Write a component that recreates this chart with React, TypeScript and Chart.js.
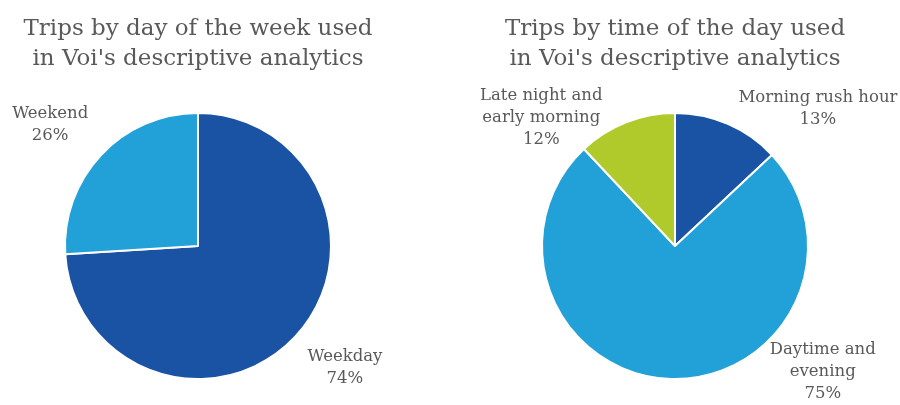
import React, { useEffect, useRef } from "react";
import { Chart, registerables } from "chart.js";

Chart.register(...registerables);

// ---------- data ----------
const dayTitle = ["Trips by day of the week used", "in Voi's descriptive analytics"];
const dayCategories = [["Weekday"], ["Weekend"]];
const dayValues = [74, 26];

const timeTitle = ["Trips by time of the day used", "in Voi's descriptive analytics"];
const timeCategories = [["Morning rush hour"], ["Daytime and", "evening"], ["Late night and", "early morning"]];
const timeValues = [13, 75, 12];

// ---------- styles / layout ----------
const DARK_BLUE = "#1a53a3";
const LIGHT_BLUE = "#22a0d8";
const GREEN = "#b0c92b";
const TEXT_GRAY = "#595959";
const FONT = "'DejaVu Serif', serif";

const dayColors = [DARK_BLUE, LIGHT_BLUE];
const timeColors = [DARK_BLUE, LIGHT_BLUE, GREEN];

// label placement: angle (deg clockwise from 12 o'clock) and gap beyond outer radius
const dayLabelAngles = [129.7, 309.3];
const dayLabelGaps = [58, 58];
const timeLabelAngles = [46.2, 130.4, 313.7];
const timeLabelGaps = [65, 61, 52];

const outLabels = {
  id: "outLabels",
  afterDraw(chart: any, _args: any, opts: any) {
    const ctx = chart.ctx;
    const meta = chart.getDatasetMeta(0);
    const data = chart.data.datasets[0].data as number[];
    const total = data.reduce((a, b) => a + b, 0);
    ctx.save();
    ctx.fillStyle = TEXT_GRAY;
    ctx.textAlign = "center";

    // title, centred over the pie
    const first = meta.data[0];
    const centerX = first ? first.getProps(["x"], true).x : chart.width / 2;
    ctx.font = `${opts.titleSize}px ${FONT}`;
    ctx.textBaseline = "alphabetic";
    (opts.title as string[]).forEach((t, k) =>
      ctx.fillText(t, centerX, opts.titleBaseline + k * opts.titleLineHeight)
    );

    // outside labels
    ctx.font = `${opts.size}px ${FONT}`;
    ctx.textBaseline = "middle";
    meta.data.forEach((el: any, i: number) => {
      const { x, y, outerRadius } = el.getProps(["x", "y", "outerRadius"], true);
      const a = (opts.angles[i] * Math.PI) / 180;
      const d = outerRadius + opts.gaps[i];
      const cx = x + Math.sin(a) * d;
      const cy = y - Math.cos(a) * d;
      const lines = [...(chart.data.labels[i] as string[]), Math.round((data[i] / total) * 100) + "%"];
      const lh = opts.lineHeight;
      const startY = cy - ((lines.length - 1) * lh) / 2;
      lines.forEach((t, k) => ctx.fillText(t, cx, startY + k * lh));
    });
    ctx.restore();
  },
};

function PieChart(props: {
  title: string[];
  labels: string[][];
  values: number[];
  colors: string[];
  angles: number[];
  gaps: number[];
  padding: { left: number; right: number; top: number; bottom: number };
}) {
  const ref = useRef<HTMLCanvasElement>(null);
  useEffect(() => {
    if (!ref.current) return;
    const chart = new Chart(ref.current, {
      type: "pie",
      data: {
        labels: props.labels as any,
        datasets: [
          {
            data: props.values,
            backgroundColor: props.colors,
            borderColor: "#ffffff",
            borderWidth: 2,
          },
        ],
      },
      options: {
        responsive: false,
        animation: false,
        devicePixelRatio: 1,
        layout: { padding: props.padding },
        plugins: {
          legend: { display: false },
          tooltip: { enabled: false },
          title: { display: false },
          outLabels: {
            title: props.title,
            titleSize: 23,
            titleBaseline: 35,
            titleLineHeight: 30,
            angles: props.angles,
            gaps: props.gaps,
            size: 16.5,
            lineHeight: 22,
          },
        } as any,
      },
      plugins: [outLabels],
    });
    return () => chart.destroy();
  }, []);
  return <canvas ref={ref} width={450} height={405} style={{ display: "block" }} />;
}

export default function App() {
  return (
    <div style={{ position: "fixed", left: 0, top: 0, width: 900, height: 405, display: "flex", background: "#fff" }}>
      <PieChart
        title={dayTitle}
        labels={dayCategories}
        values={dayValues}
        colors={dayColors}
        angles={dayLabelAngles}
        gaps={dayLabelGaps}
        padding={{ left: 64, right: 118, top: 112, bottom: 25 }}
      />
      <PieChart
        title={timeTitle}
        labels={timeCategories}
        values={timeValues}
        colors={timeColors}
        angles={timeLabelAngles}
        gaps={timeLabelGaps}
        padding={{ left: 91, right: 91, top: 112, bottom: 25 }}
      />
    </div>
  );
}
